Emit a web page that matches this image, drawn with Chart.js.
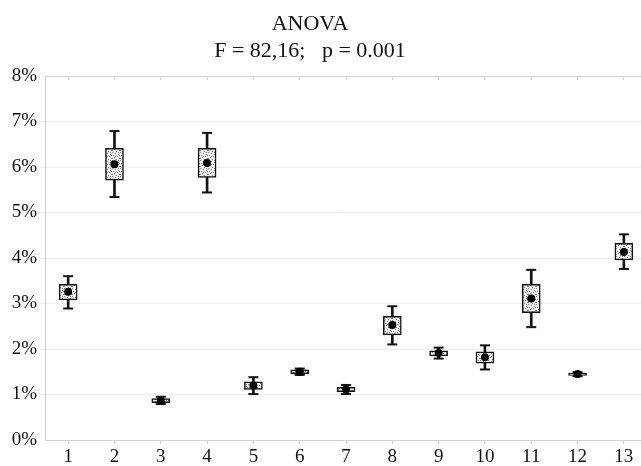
<!DOCTYPE html>
<html>
<head>
<meta charset="utf-8">
<script src="https://cdn.jsdelivr.net/npm/chart.js@4/dist/chart.umd.min.js"></script>
<style>
  html, body { margin: 0; padding: 0; background: #fff; }
  #wrap { position: relative; width: 641px; height: 466px; }
  #probe { position: absolute; left: -999px; top: 0; font-family: "Liberation Serif"; font-size: 19px; }
</style>
</head>
<body>
<span id="probe">ANOVA 0123456789%</span>
<div id="wrap"><canvas id="chart"></canvas></div>
<script>
// values in percent
const categories = [1, 2, 3, 4, 5, 6, 7, 8, 9, 10, 11, 12, 13];
const tickLabels = ["1", "2", "3", "4", "5", "6", "7", "8", "9", "10", "11", "12", "13"];
const means     = [3.26, 6.06, 0.86, 6.09, 1.20, 1.50, 1.11, 2.53, 1.91, 1.82, 3.11, 1.45, 4.13];
const boxLow    = [3.08, 5.71, 0.82, 5.77, 1.11, 1.46, 1.06, 2.31, 1.85, 1.69, 2.80, 1.42, 3.96];
const boxHigh   = [3.42, 6.41, 0.91, 6.41, 1.28, 1.54, 1.16, 2.72, 1.96, 1.94, 3.42, 1.47, 4.32];
const whiskLow  = [2.89, 5.34, 0.79, 5.44, 1.01, 1.43, 1.01, 2.10, 1.79, 1.55, 2.48, 1.40, 3.76];
const whiskHigh = [3.60, 6.79, 0.95, 6.75, 1.38, 1.57, 1.21, 2.94, 2.03, 2.08, 3.74, 1.49, 4.52];
const titleLines = ["ANOVA", "F = 82,16;   p = 0.001"];

const SERIF = "'Liberation Serif'";
const AXIS = "#d2d2d2";
const GRID = "#eeeeee";

// stippled fill for the boxes (fixed dot layout)
function stipple() {
  const c = document.createElement("canvas");
  c.width = 8; c.height = 8;
  const g = c.getContext("2d");
  g.fillStyle = "#eeeeee";
  g.fillRect(0, 0, 8, 8);
  g.fillStyle = "#7a7a7a";
  [[0,0],[3,1],[6,2],[1,3],[5,4],[2,5],[7,6],[4,7],[0,6],[6,0],[3,4],[7,3]].forEach(([x, y]) => g.fillRect(x, y, 1, 1));
  return g.createPattern(c, "repeat");
}

const titlePlugin = {
  id: "titleText",
  afterDraw(chart) {
    const ctx = chart.ctx;
    ctx.save();
    ctx.fillStyle = "#111";
    ctx.font = "22px " + SERIF;
    ctx.textAlign = "center";
    ctx.textBaseline = "alphabetic";
    ctx.fillText(titleLines[0], 310, 30);
    ctx.fillText(titleLines[1], 310, 57);
    ctx.restore();
  }
};

function draw() {
  new Chart(document.getElementById("chart"), {
    data: {
      datasets: [
        {
          type: "scatter",
          data: categories.map((c, i) => ({ x: c, y: means[i] })),
          pointStyle: "circle",
          pointRadius: 4,
          backgroundColor: "#000",
          borderColor: "#000",
          borderWidth: 0,
          order: 0
        },
        {
          type: "scatter",
          data: categories.flatMap((c, i) => [{ x: c, y: whiskLow[i] }, { x: c, y: whiskHigh[i] }]),
          pointStyle: "line",
          pointRadius: 5,
          borderColor: "#111",
          borderWidth: 2,
          order: 1
        },
        {
          type: "bar",
          data: categories.map((c, i) => ({ x: c, y: [boxLow[i], boxHigh[i]] })),
          backgroundColor: stipple(),
          borderColor: "#111",
          borderWidth: 1.5,
          borderSkipped: false,
          barThickness: 18,
          grouped: false,
          order: 2
        },
        {
          type: "bar",
          data: categories.map((c, i) => ({ x: c, y: [whiskLow[i], whiskHigh[i]] })),
          backgroundColor: "#111",
          borderWidth: 0,
          barThickness: 2,
          grouped: false,
          order: 3
        }
      ]
    },
    options: {
      responsive: true,
      maintainAspectRatio: false,
      animation: false,
      layout: { autoPadding: false, padding: { top: 76, left: 0, right: 0, bottom: 0 } },
      plugins: {
        legend: { display: false },
        tooltip: { enabled: false },
        title: { display: false }
      },
      scales: {
        x: {
          type: "linear",
          position: "bottom",
          offset: false,
          min: 0.5,
          max: 13.37,
          afterBuildTicks: s => { s.ticks = categories.map(v => ({ value: v })); },
          afterFit: s => { s.height = 26; },
          ticks: {
            autoSkip: false,
            maxRotation: 0,
            padding: 2,
            color: "#111",
            font: { family: SERIF, size: 19 },
            callback: (v, i) => tickLabels[i]
          },
          grid: { offset: false, drawOnChartArea: false, tickLength: 4, color: AXIS },
          border: { color: AXIS, width: 1 }
        },
        xTop: {
          type: "linear",
          position: "top",
          offset: false,
          min: 0.5,
          max: 13.37,
          afterBuildTicks: s => { s.ticks = categories.map(v => ({ value: v })); },
          afterFit: s => { s.height = 0; },
          ticks: { display: false },
          grid: { offset: false, drawOnChartArea: false, tickLength: -4, color: AXIS },
          border: { color: AXIS, width: 1 }
        },
        y: {
          min: 0,
          max: 8,
          afterFit: s => { s.width = 45; },
          ticks: {
            stepSize: 1,
            padding: 2,
            color: "#111",
            font: { family: SERIF, size: 19 },
            callback: v => v + "%"
          },
          grid: {
            color: GRID,
            tickLength: 6,
            tickColor: c => (c.tick && (c.tick.value === 0 || c.tick.value === 8)) ? "rgba(0,0,0,0)" : GRID
          },
          border: { color: AXIS, width: 1 }
        }
      }
    },
    plugins: [titlePlugin]
  });
}

if (document.fonts && document.fonts.load) {
  document.fonts.load("19px 'Liberation Serif'").then(draw, draw);
} else {
  draw();
}
</script>
</body>
</html>
